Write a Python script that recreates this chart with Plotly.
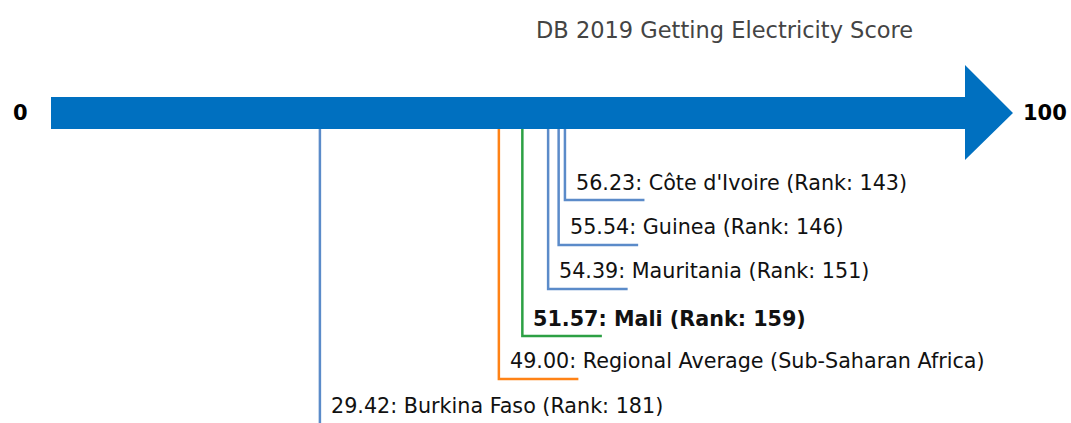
import plotly.graph_objects as go

title = "DB 2019 Getting Electricity Score"
names = ["Côte d'Ivoire", "Guinea", "Mauritania", "Mali", "Regional Average (Sub-Saharan Africa)", "Burkina Faso"]
scores = [56.23, 55.54, 54.39, 51.57, 49.00, 29.42]
ranks = [143, 146, 151, 159, None, 181]
highlight = [False, False, False, True, False, False]
kinds = ["peer", "peer", "peer", "focus", "avg", "peer"]
axis_min, axis_max = 0, 100

colors = {"peer": "#5b8bc9", "focus": "#2ca044", "avg": "#ff8216"}
arrow_color = "#0070c0"

# layout positions (page-pixel y coordinates)
text_y = [183, 227, 271, 319, 361, 406]
hline_y = [200, 245, 289, 336, 379, None]
arrow_top, arrow_bot = 97, 129
head_top, head_bot = 65, 160
head_len = 5.25
hlen = 8.7

fig = go.Figure()

mid = (arrow_top + arrow_bot) / 2
fig.add_trace(go.Scatter(
    x=[axis_min, axis_max, axis_max, axis_max + head_len, axis_max, axis_max, axis_min, axis_min],
    y=[arrow_top, arrow_top, head_top, mid, head_bot, arrow_bot, arrow_bot, arrow_top],
    fill="toself", fillcolor=arrow_color, mode="lines", line=dict(width=0, color=arrow_color),
    hoverinfo="skip", showlegend=False))

for n, s, r, h, k, ty, hy in zip(names, scores, ranks, highlight, kinds, text_y, hline_y):
    c = colors[k]
    if hy is None:
        xs, ys = [s, s], [arrow_bot, 440]
    else:
        xs, ys = [s, s, s + hlen], [arrow_bot, hy, hy]
    fig.add_trace(go.Scatter(x=xs, y=ys, mode="lines", line=dict(color=c, width=2.5),
                             hoverinfo="skip", showlegend=False))
    label = f"{s:.2f}: {n}" + (f" (Rank: {r})" if r is not None else "")
    if h:
        label = f"<b>{label}</b>"
    fig.add_annotation(x=s + 1.0, y=ty, text=label, showarrow=False, xanchor="left", yanchor="middle",
                       font=dict(family="DejaVu Sans", size=20.7, color="#111111"))

fig.add_annotation(x=axis_min, y=mid, text=f"<b>{axis_min}</b>", showarrow=False, xanchor="center",
                   xshift=-31, yanchor="middle", font=dict(family="DejaVu Sans", size=21, color="#000000"))
fig.add_annotation(x=axis_max + head_len, y=mid, text=f"<b>{axis_max}</b>", showarrow=False, xanchor="left",
                   xshift=8, yanchor="middle", font=dict(family="DejaVu Sans", size=21, color="#000000"))

fig.add_annotation(x=73.7, y=30, text=title, showarrow=False, xanchor="center", yanchor="middle",
                   font=dict(family="DejaVu Sans", size=22.5, color="#444444"))

W, H = 1071, 423
px_per = 9.14
x0 = -51 / px_per
x1 = (W - 51) / px_per
fig.update_layout(
    width=W, height=H, margin=dict(l=0, r=0, t=0, b=0),
    paper_bgcolor="white", plot_bgcolor="white",
    xaxis=dict(range=[x0, x1], visible=False, fixedrange=True),
    yaxis=dict(range=[H, 0], visible=False, fixedrange=True),
)
fig.write_html("out.html", config={"displayModeBar": False},
               post_script="document.body.style.margin='0';document.body.style.overflow='hidden';")
